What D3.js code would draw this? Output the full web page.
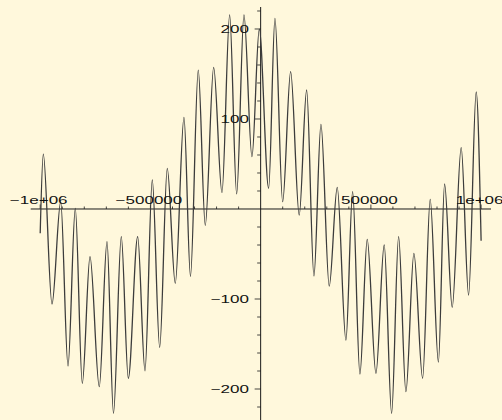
<!DOCTYPE html>
<html><head><meta charset="utf-8">
<script src="https://cdn.jsdelivr.net/npm/d3@7"></script>
<style>html,body{margin:0;padding:0;background:#fff8dc;}svg{display:block;}</style>
</head><body>
<script>
// Curve extrema (x, y)
const xValues = [-1000000,-985900,-946500,-907000,-873900,-840800,-809000,-774100,-732000,-697000,-667600,-632200,-600400,-557800,-524700,-491600,-458000,-423600,-387300,-347800,-318400,-283000,-251200,-213100,-175500,-140600,-108800,-75700,-39500,-6300,36300,64900,99800,136000,175000,208600,241700,273500,311100,347400,386800,417200,450300,483400,522900,560500,594100,625800,658900,695200,734700,769100,806300,834400,868900,909700,943300,977800,1000000];
const yValues = [-27,61,-105.6,8.1,-174.4,0.8,-193.7,-53,-197.4,-36.3,-227,-30.8,-188.1,-30.8,-179.7,32.2,-153.7,45.2,-82.6,101.9,-74.8,154.4,-18.1,157.4,18.1,215.6,16.7,215.6,58.1,199.7,23,211.9,8.1,152.6,-6.7,132.2,-74.4,94.1,-85.6,24.1,-145.6,19.2,-183.3,-33.7,-182.6,-40,-227,-30.8,-203,-49.2,-188.1,10.8,-170,27.8,-109.2,68.1,-95.6,130,-35.2];
const xTickValues = [-1000000,-500000,500000,1000000];
const xTickLabels = ["\u22121e+06","\u2212500000","500000","1e+06"];
const yTickValues = [-200,-100,100,200];
const yTickLabels = ["\u2212200","\u2212100","100","200"];

const W = 502, H = 420;
const svg = d3.select("body").append("svg").attr("width", W).attr("height", H);
svg.append("rect").attr("width", W).attr("height", H).attr("fill", "#fff8dc");

const x = d3.scaleLinear().domain([-1043100, 1044900]).range([30.7, 491]);
const y = d3.scaleLinear().domain([-234.44, 224.44]).range([420, 7]);

const axisColor = "#1a1a1a";
// x axis
svg.append("line").attr("x1", x.range()[0]).attr("x2", x.range()[1])
  .attr("y1", y(0)).attr("y2", y(0)).attr("stroke", axisColor).attr("stroke-width", 1);
// y axis
svg.append("line").attr("x1", x(0)).attr("x2", x(0))
  .attr("y1", y.range()[1]).attr("y2", y.range()[0]).attr("stroke", axisColor).attr("stroke-width", 1);

// x minor & major ticks
const xMinor = d3.range(-1000000, 1000001, 100000).filter(v => v !== 0);
svg.append("g").selectAll("line").data(xMinor).join("line")
  .attr("x1", d => x(d)).attr("x2", d => x(d))
  .attr("y1", y(0)).attr("y2", d => y(0) - (d % 500000 === 0 ? 4.5 : 2.5))
  .attr("stroke", axisColor).attr("stroke-width", 0.8);
// y minor & major ticks
const yMinor = d3.range(-220, 221, 20).filter(v => v !== 0);
svg.append("g").selectAll("line").data(yMinor).join("line")
  .attr("y1", d => y(d)).attr("y2", d => y(d))
  .attr("x1", x(0)).attr("x2", d => x(0) - (d % 100 === 0 ? 6 : 3.5))
  .attr("stroke", axisColor).attr("stroke-width", 0.8);

// curve
const pts = xValues.map((v, i) => [v, yValues[i]]);
svg.append("path").datum(pts)
  .attr("d", d3.line().x(d => x(d[0])).y(d => y(d[1])).curve(d3.curveMonotoneX))
  .attr("fill", "none").attr("stroke", "#3c3c3c").attr("stroke-width", 1.3);

// labels
const fs = 11.5, sx = 1.48;
svg.append("g").selectAll("text").data(xTickValues).join("text")
  .attr("transform", d => `translate(${x(d) - 1.5},${y(0) - 5}) scale(${sx},1)`)
  .attr("text-anchor", "middle")
  .attr("font-family", "Liberation Sans, Arial, sans-serif").attr("font-size", fs)
  .attr("fill", "#111")
  .text((d, i) => xTickLabels[i]);
svg.append("g").selectAll("text").data(yTickValues).join("text")
  .attr("transform", d => `translate(249,${y(d) + 4.3}) scale(${sx},1)`)
  .attr("text-anchor", "end")
  .attr("font-family", "Liberation Sans, Arial, sans-serif").attr("font-size", fs)
  .attr("fill", "#111")
  .text((d, i) => yTickLabels[i]);
</script>
</body></html>
